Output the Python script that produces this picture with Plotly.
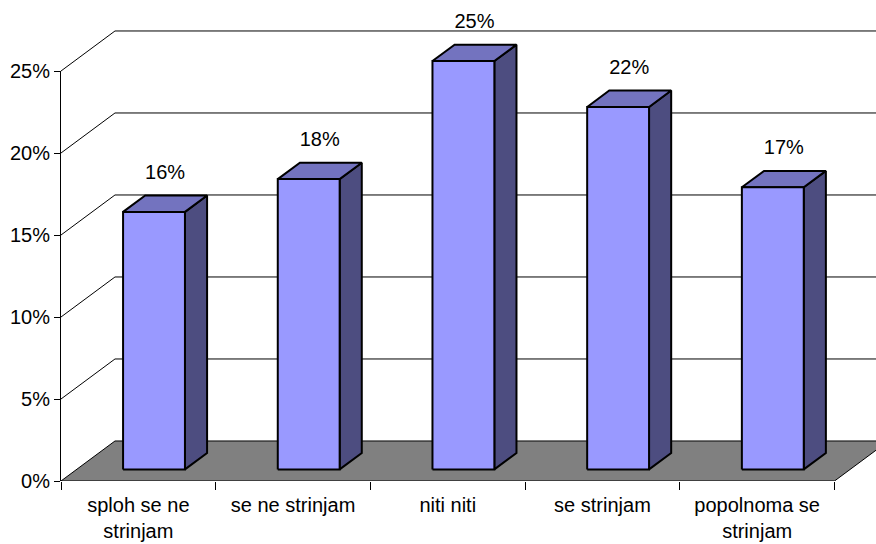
import plotly.graph_objects as go

# Survey answers and their shares (percent)
categories = ["sploh se ne<br>strinjam", "se ne strinjam", "niti niti", "se strinjam", "popolnoma se<br>strinjam"]
shares = [15.7, 17.7, 24.9, 22.1, 17.2]
y_ticks = [0, 5, 10, 15, 20, 25]
y_tick_labels = ["0%", "5%", "10%", "15%", "20%", "25%"]

# Oblique 3D look: shift of the back plane in axis units
DX = 0.349          # horizontal shift (category units)
DY = 2.44           # vertical shift (percent units)
D_FRONT, D_BACK = 0.29, 0.70   # depth span of each column
HALF_W = 0.2        # half column width
LABEL_GAP = 1.83    # gap between top face and value label (percent units)

FRONT = "#9999FF"
TOP = "#7373BF"
SIDE = "#4D4D80"
FLOOR = "#808080"
FONT = dict(family="Liberation Sans, Arial, sans-serif", size=20, color="black")

n = len(categories)
x_left, x_right = -0.5, n - 0.5
px_per_unit_x = 154.7
px_per_pct = 16.4
plot_w, plot_h = 876 - 61, 481
y_top = plot_h / px_per_pct

fig = go.Figure()

def poly(xs, ys, fill, width=1.0):
    fig.add_trace(go.Scatter(
        x=xs + [xs[0]], y=ys + [ys[0]], mode="lines", fill="toself",
        fillcolor=fill, line=dict(color="black", width=width),
        hoverinfo="skip", showlegend=False, xaxis="x", yaxis="y2"))

def line(xs, ys):
    fig.add_trace(go.Scatter(
        x=xs, y=ys, mode="lines", line=dict(color="black", width=1),
        hoverinfo="skip", showlegend=False, xaxis="x", yaxis="y2"))

# side wall diagonals + back wall gridlines
for v in y_ticks[1:]:
    line([x_left, x_left + DX, x_right + DX], [v, v + DY, v + DY])

# floor
poly([x_left, x_right, x_right + DX, x_left + DX], [0, 0, DY, DY], FLOOR)

# columns
for i, v in enumerate(shares):
    x0 = i - HALF_W + D_FRONT * DX
    x1 = i + HALF_W + D_FRONT * DX
    dd = (D_BACK - D_FRONT) * DX
    yb = D_FRONT * DY
    yt = v + D_FRONT * DY
    ytb = v + D_BACK * DY
    ybb = D_BACK * DY
    poly([x1, x1 + dd, x1 + dd, x1], [yb, ybb, ytb, yt], SIDE, 2)
    poly([x0, x1, x1 + dd, x0 + dd], [yt, yt, ytb, ytb], TOP, 2)
    poly([x0, x1, x1, x0], [yb, yb, yt, yt], FRONT, 2)

# value labels above the top faces
d_mid = (D_FRONT + D_BACK) / 2
fig.add_trace(go.Scatter(
    x=[i + d_mid * DX for i in range(n)],
    y=[v + d_mid * DY + LABEL_GAP for v in shares],
    text=[f"{v:.0f}%" for v in shares], mode="text",
    textposition="middle center", textfont=FONT, cliponaxis=False,
    hoverinfo="skip", showlegend=False, xaxis="x", yaxis="y2"))

# invisible trace carrying the value axis
fig.add_trace(go.Scatter(x=[0], y=[0], mode="markers", marker=dict(opacity=0),
                         hoverinfo="skip", showlegend=False, xaxis="x", yaxis="y"))

fig.update_layout(
    width=876, height=544, autosize=False,
    margin=dict(l=61, r=0, t=0, b=544 - plot_h, pad=0, autoexpand=False),
    paper_bgcolor="white", plot_bgcolor="rgba(0,0,0,0)",
    font=FONT, showlegend=False,
    xaxis=dict(
        range=[x_left, x_left + plot_w / px_per_unit_x], anchor="y",
        tickmode="array", tickvals=list(range(n)), ticktext=categories,
        ticks="", showgrid=False, zeroline=False, showline=False,
        tickfont=FONT, ticklabelstandoff=10, automargin=False,
        minor=dict(tickmode="array", tickvals=[k - 0.5 for k in range(n + 1)],
                   ticks="outside", ticklen=8, tickcolor="black", tickwidth=1,
                   showgrid=False),
    ),
    yaxis=dict(
        range=[0, 25], domain=[0, 25 / y_top], anchor="x",
        tickmode="array", tickvals=y_ticks, ticktext=y_tick_labels,
        ticks="outside", ticklen=6, tickcolor="black", tickwidth=1,
        showline=True, linecolor="black", linewidth=1, automargin=False,
        showgrid=False, zeroline=False, tickfont=FONT,
    ),
    yaxis2=dict(range=[0, y_top], domain=[0, 1], anchor="x", visible=False,
                showgrid=False, zeroline=False, automargin=False),
)

fig.write_html("out.html")
